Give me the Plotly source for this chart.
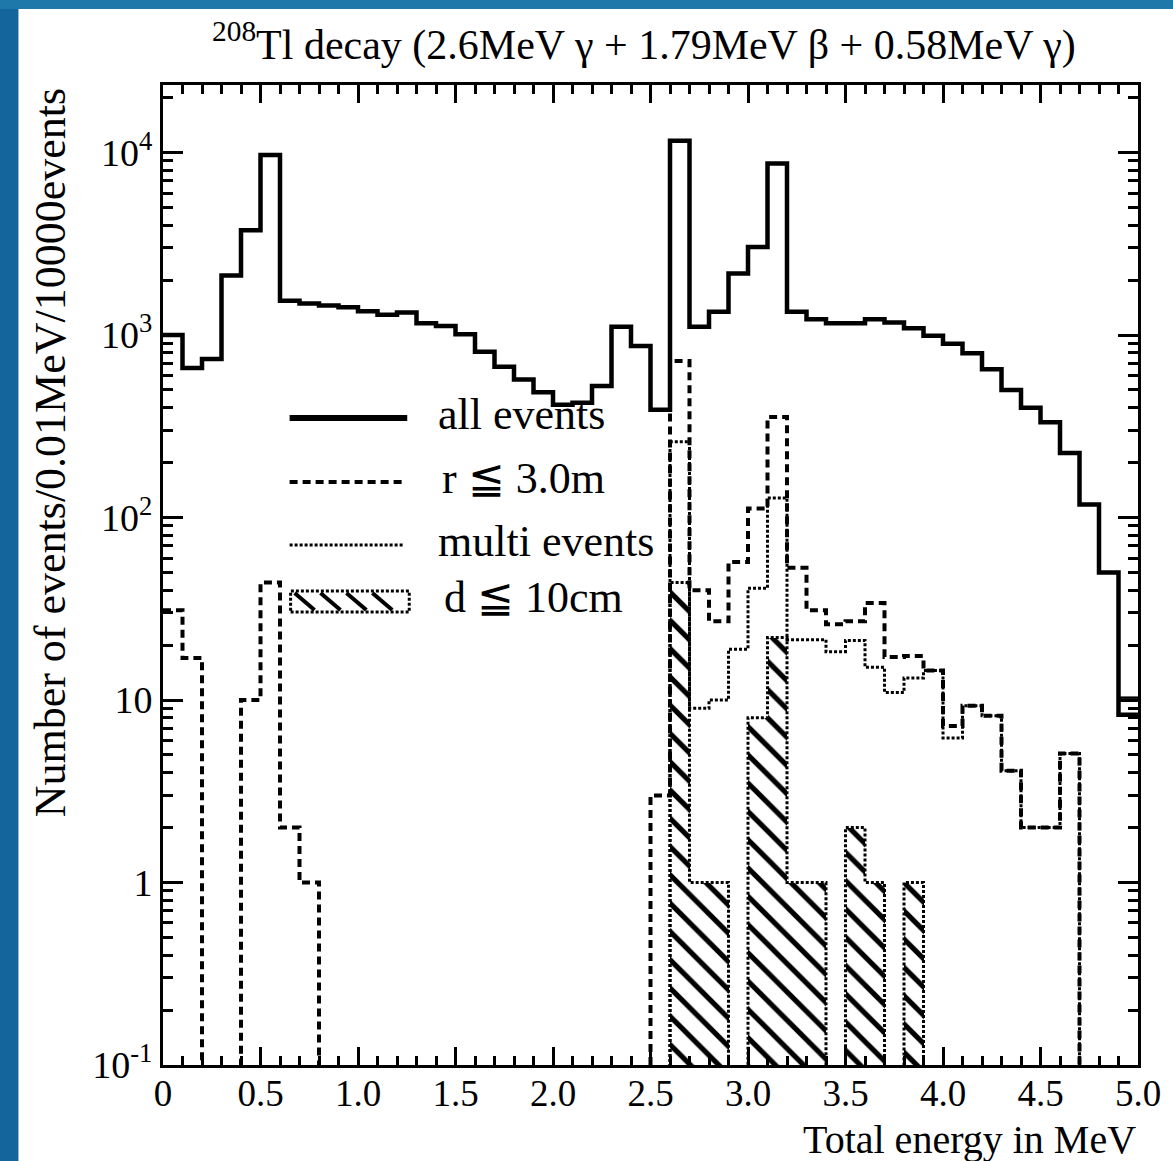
import numpy as np
import plotly.graph_objects as go

# ---------------- data (bins of 0.1 MeV from 0 to 5.0 MeV) ----------------
bin_edges = [round(0.1 * i, 1) for i in range(51)]

all_events = [1000, 660, 740, 2120, 3750, 9700, 1540, 1490, 1450, 1420,
              1350, 1290, 1330, 1160, 1120, 1010, 810, 670, 570, 485,
              415, 425, 525, 1110, 870, 390, 11600, 1110, 1340, 2170,
              3040, 8700, 1340, 1220, 1160, 1160, 1220, 1170, 1090, 990,
              895, 795, 650, 500, 400, 333, 226, 118, 50, 8.3]

r_le_3m = [31, 17, 0, 0, 10, 44, 2, 1, 0, 0,
           0, 0, 0, 0, 0, 0, 0, 0, 0, 0,
           0, 0, 0, 0, 0, 3, 720, 40, 27, 57,
           112, 355, 53, 31, 26, 27, 34, 17.2, 17.4, 14.5,
           7.2, 9.3, 8.2, 4.1, 2, 2, 5.1, 0, 0, 0]

multi_events = [0, 0, 0, 0, 0, 0, 0, 0, 0, 0,
                0, 0, 0, 0, 0, 0, 0, 0, 0, 0,
                0, 0, 0, 0, 0, 0, 260, 9.0, 10.0, 19,
                41, 128, 21.4, 21.4, 18.4, 21.2, 15.1, 11.0, 13.2, 14.5,
                6.2, 9.3, 8.2, 4.1, 2, 2, 5.1, 0, 0, 0]

d_le_10cm = [0, 0, 0, 0, 0, 0, 0, 0, 0, 0,
             0, 0, 0, 0, 0, 0, 0, 0, 0, 0,
             0, 0, 0, 0, 0, 0, 44, 1, 1, 0,
             8, 22, 1, 1, 0, 2, 1, 0, 1, 0,
             0, 0, 0, 0, 0, 0, 0, 0, 0, 0]

# thin extra outline seen in the last bin
last_bin_outline = [10.3]

x_tickvals = [0, 0.5, 1.0, 1.5, 2.0, 2.5, 3.0, 3.5, 4.0, 4.5, 5.0]
x_ticktext = ["0", "0.5", "1.0", "1.5", "2.0", "2.5", "3.0", "3.5", "4.0", "4.5", "5.0"]
y_tickvals = [0.1, 1, 10, 100, 1000, 10000]
y_ticktext = ["10<sup>-1</sup>", "1", "10", "10<sup>2</sup>", "10<sup>3</sup>", "10<sup>4</sup>"]

legend_labels = ["all events", "r \u2266 3.0m", "multi events", "d \u2266 10cm"]
title_text = "<sup>208</sup>Tl decay (2.6MeV \u03b3 + 1.79MeV \u03b2 + 0.58MeV \u03b3)"
x_title = "Total energy in MeV"
y_title = "Number of events/0.01MeV/10000events"

# ---------------- helpers ----------------
FLOOR = 1e-3  # below visible range -> drawn down to the axis


def step_xy(values):
    v = [val if val > 0 else FLOOR for val in values]
    return bin_edges, v + [v[-1]]


FONT = "Liberation Serif, Times New Roman, serif"
W, H = 1173, 1161
L, R, T, B = 163, 1141, 85, 1065


def px_x(p):
    return (p - L) / (R - L)


def px_y(p):
    return (B - p) / (B - T)


fig = go.Figure()

# hatched d <= 10cm histogram
centers = [round(0.05 + 0.1 * i, 2) for i in range(50)]
fig.add_trace(go.Bar(
    x=centers, y=[v if v > 0 else None for v in d_le_10cm], width=0.1,
    marker=dict(color="black", line=dict(width=0),
                pattern=dict(shape="\\", fgcolor="black", bgcolor="rgba(255,255,255,0)",
                             fgopacity=1, fillmode="replace",
                             size=20, solidity=0.26)),
    showlegend=False, hoverinfo="skip"))

xs, ys = step_xy(d_le_10cm)
fig.add_trace(go.Scatter(x=xs, y=ys, mode="lines", line_shape="hv",
                         line=dict(color="black", width=3, dash="3px,2px"),
                         showlegend=False, hoverinfo="skip"))

xs, ys = step_xy(multi_events)
fig.add_trace(go.Scatter(x=xs, y=ys, mode="lines", line_shape="hv",
                         line=dict(color="black", width=3, dash="3px,2px"),
                         showlegend=False))

xs, ys = step_xy(r_le_3m)
fig.add_trace(go.Scatter(x=xs, y=ys, mode="lines", line_shape="hv",
                         line=dict(color="black", width=4, dash="8px,5px"),
                         showlegend=False))

xs, ys = step_xy(all_events)
fig.add_trace(go.Scatter(x=xs, y=ys, mode="lines", line_shape="hv",
                         line=dict(color="black", width=4.5),
                         showlegend=False))

fig.add_trace(go.Scatter(x=[bin_edges[-2], bin_edges[-1]], y=last_bin_outline * 2,
                         mode="lines", line=dict(color="black", width=2.5),
                         showlegend=False))

minor_y = []
for dec in [0.1, 1, 10, 100, 1000, 10000]:
    for k in range(2, 10):
        minor_y.append(dec * k)

fig.update_layout(
    width=W, height=H,
    margin=dict(l=L, r=W - R, t=T, b=H - B),
    paper_bgcolor="white", plot_bgcolor="white",
    font=dict(family=FONT, color="black", size=40),
    showlegend=False, bargap=0,
    xaxis=dict(range=[0, 5], tickmode="array", tickvals=x_tickvals, ticktext=x_ticktext,
               ticks="inside", ticklen=18, tickwidth=2.5, tickcolor="black",
               showline=True, linecolor="black", linewidth=3, mirror="allticks",
               showgrid=False, zeroline=False, ticklabelstandoff=-6,
               tickfont=dict(size=37, family=FONT),
               minor=dict(tickmode="linear", tick0=0, dtick=0.1, ticks="inside",
                          ticklen=9, tickwidth=2.5, tickcolor="black", showgrid=False)),
    yaxis=dict(type="log", range=[-1, 4.37], tickmode="array", tickvals=y_tickvals,
               ticktext=y_ticktext,
               ticks="inside", ticklen=20, tickwidth=2.5, tickcolor="black",
               showline=True, linecolor="black", linewidth=3, mirror="allticks",
               showgrid=False, zeroline=False,
               tickfont=dict(size=38, family=FONT),
               minor=dict(tickmode="array", tickvals=minor_y, ticks="inside",
                          ticklen=10, tickwidth=2.5, tickcolor="black", showgrid=False)),
)

annotations = [
    dict(text=title_text, xref="paper", yref="paper", x=px_x(645), y=px_y(42),
         xanchor="center", yanchor="middle", showarrow=False,
         font=dict(size=42, family=FONT)),
    dict(text=x_title, xref="paper", yref="paper", x=px_x(1141), y=px_y(1139),
         xanchor="right", yanchor="middle", showarrow=False,
         font=dict(size=40, family=FONT)),
    dict(text=y_title, xref="paper", yref="paper", x=px_x(50), y=1.0,
         xanchor="center", yanchor="top", textangle=-90, showarrow=False,
         font=dict(size=44, family=FONT)),
]

# manual legend
leg_rows = [418, 482, 545, 601]
text_x = [437, 441, 437, 443]
for lab, ry, tx in zip(legend_labels, leg_rows, text_x):
    annotations.append(dict(text=lab, xref="paper", yref="paper", x=px_x(tx), y=px_y(ry - 4),
                            xanchor="left", yanchor="middle", showarrow=False,
                            font=dict(size=44, family=FONT)))

shapes = []
# blue frame
shapes.append(dict(type="rect", xref="paper", yref="paper", x0=px_x(-5), x1=px_x(18),
                   y0=px_y(H + 5), y1=px_y(-5), fillcolor="#15659d", line=dict(width=0), layer="above"))
shapes.append(dict(type="rect", xref="paper", yref="paper", x0=px_x(-5), x1=px_x(W + 5),
                   y0=px_y(9), y1=px_y(-5), fillcolor="#1f78aa", line=dict(width=0), layer="above"))

shapes.append(dict(type="line", xref="paper", yref="paper", x0=px_x(290), x1=px_x(408),
                   y0=px_y(leg_rows[0]), y1=px_y(leg_rows[0]), line=dict(color="black", width=6)))
shapes.append(dict(type="line", xref="paper", yref="paper", x0=px_x(290), x1=px_x(403),
                   y0=px_y(leg_rows[1]), y1=px_y(leg_rows[1]),
                   line=dict(color="black", width=4, dash="8px,5px")))
shapes.append(dict(type="line", xref="paper", yref="paper", x0=px_x(290), x1=px_x(405),
                   y0=px_y(leg_rows[2]), y1=px_y(leg_rows[2]),
                   line=dict(color="black", width=3, dash="3px,2px")))
# hatched legend box
bx0, bx1, by0, by1 = 291, 410, 591, 612
shapes.append(dict(type="rect", xref="paper", yref="paper", x0=px_x(bx0), x1=px_x(bx1),
                   y0=px_y(by1), y1=px_y(by0), line=dict(color="black", width=3, dash="3px,2px")))
for sx in range(bx0 + 4, bx1 - 16, 26):
    shapes.append(dict(type="line", xref="paper", yref="paper", x0=px_x(sx), x1=px_x(sx + 20),
                       y0=px_y(by0 + 2), y1=px_y(by1 - 2), line=dict(color="black", width=4)))

fig.update_layout(annotations=annotations, shapes=shapes)
fig.write_html("out.html")
